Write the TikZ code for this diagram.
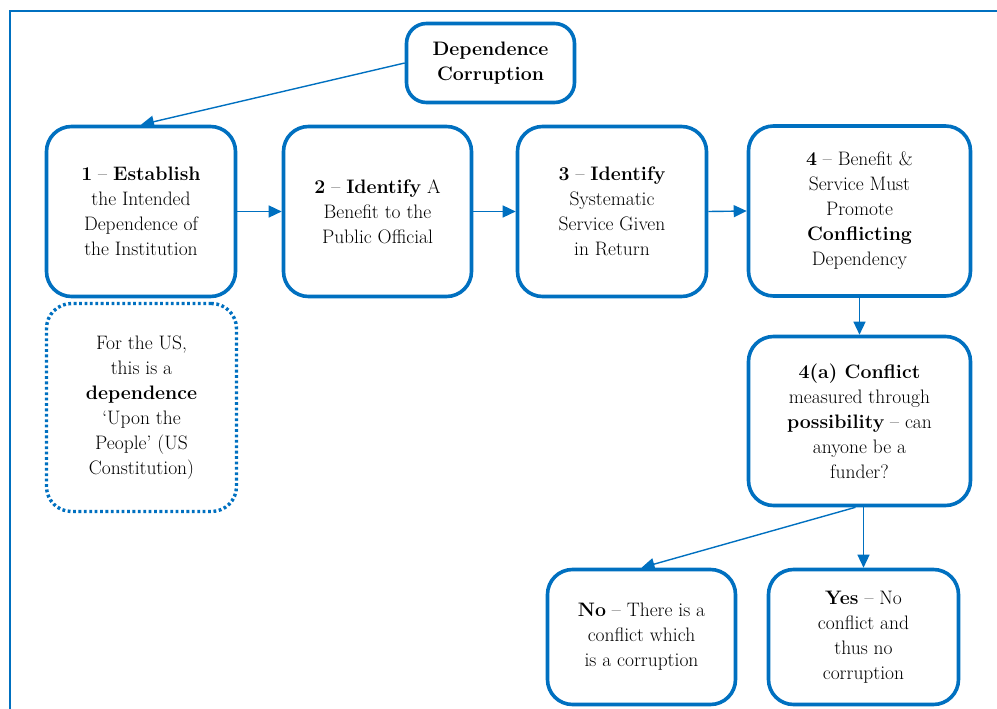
\documentclass[tikz,border=0pt]{standalone}
\usepackage{fontspec}
\usetikzlibrary{arrows.meta}
\definecolor{flowblue}{RGB}{0,112,192}
\begin{document}
\begin{tikzpicture}[x=1pt,y=-1pt,
  every node/.style={font=\fontsize{19.5}{25}\selectfont, align=center, inner sep=0pt},
  stepbox/.style={draw=flowblue, line width=3.6pt, rounded corners=25pt, fill=white},
  notebox/.style={draw=flowblue, line width=3.4pt, rounded corners=25pt,
                  dash pattern=on 2.8pt off 2.6pt},
  link/.style={draw=flowblue, line width=1.4pt, -{Triangle[length=13pt,width=12pt]}}]
  \useasboundingbox (0,0) rectangle (997,709);
  % page frame
  \draw[flowblue, line width=2pt] (10,712) -- (10,11) -- (1000,11);

  % title
  \node[stepbox, rounded corners=20pt, minimum width=168pt, minimum height=79pt]
    (top) at (490.5,63) {\textbf{Dependence}\\\textbf{Corruption}};

  % main steps
  \node[stepbox, minimum width=189pt, minimum height=170pt] (b1) at (141,211.5)
    {\textbf{1} – \textbf{Establish}\\the Intended\\Dependence of\\the Institution};
  \node[stepbox, minimum width=188pt, minimum height=170pt] (b2) at (377.5,211.5)
    {\textbf{2} – \textbf{Identify} A\\Benefit to the\\Public Official};
  \node[stepbox, minimum width=189pt, minimum height=170pt] (b3) at (612,211.5)
    {\textbf{3} – \textbf{Identify}\\Systematic\\Service Given\\in Return};
  \node[stepbox, minimum width=222pt, minimum height=170pt] (b4) at (859.5,211)
    {\textbf{4} – Benefit \&\\Service Must\\Promote\\\textbf{Conflicting}\\Dependency};
  \node[stepbox, minimum width=222pt, minimum height=169pt] (b4a) at (859.5,421)
    {\textbf{4(a) Conflict}\\measured through\\\textbf{possibility} – can\\anyone be a\\funder?};

  % note under step 1
  \node[notebox, minimum width=190pt, minimum height=208pt] (note) at (141.5,407.5)
    {For the US,\\this is a\\\textbf{dependence}\\‘Upon the\\People’ (US\\Constitution)};

  % outcomes
  \node[stepbox, minimum width=188pt, minimum height=135pt] (no) at (641.5,637)
    {\textbf{No} – There is a\\conflict which\\is a corruption};
  \node[stepbox, minimum width=190pt, minimum height=135pt] (yes) at (863.5,637)
    {\textbf{Yes} – No\\conflict and\\thus no\\corruption};

  % connectors
  \draw[link] (top.west) -- (b1.north);
  \draw[link] (b1.east) -- (b2.west);
  \draw[link] (b2.east) -- (b3.west);
  \draw[link] (b3.east) -- (b4.west);
  \draw[link] (b4.south) -- (b4a.north);
  \draw[link] ([xshift=-4pt]b4a.south) -- (no.north);
  \draw[link] (yes.north |- b4a.south) -- (yes.north);
\end{tikzpicture}
\end{document}
